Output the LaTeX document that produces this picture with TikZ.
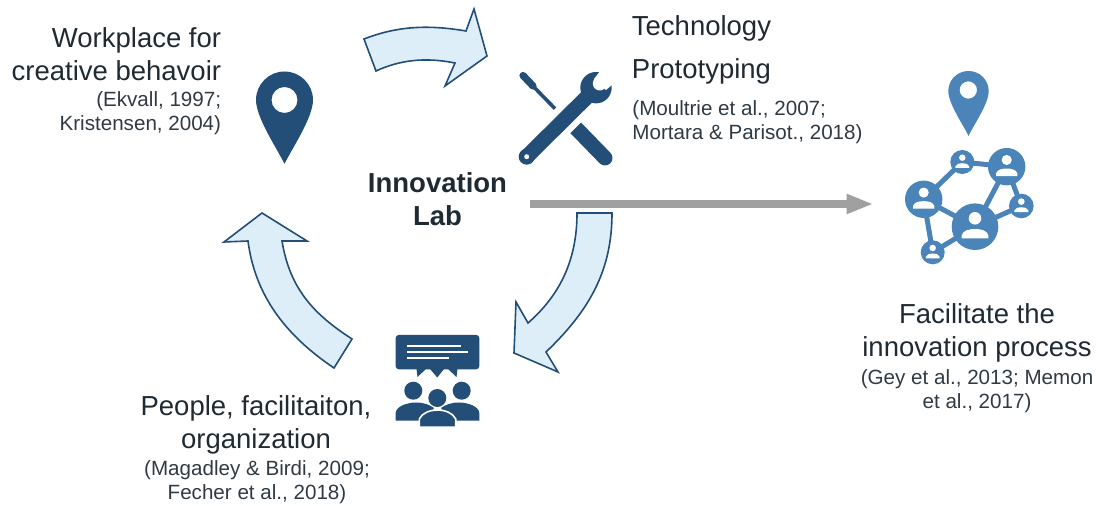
\documentclass[tikz,border=0pt]{standalone}
\usepackage{fontspec}
\setmainfont{Liberation Sans}
\usetikzlibrary{arrows.meta}
\definecolor{icondark}{HTML}{224E78}
\definecolor{iconblue}{HTML}{4A84B8}
\definecolor{cyclefill}{HTML}{DEEEF8}
\definecolor{textdark}{HTML}{1F2A33}
\definecolor{textref}{HTML}{2F3A43}
\definecolor{flowgray}{HTML}{A0A0A0}
\tikzset{
  titletext/.style={text=textdark, font=\fontsize{13.75}{16.5}\selectfont, align=#1, inner sep=0pt},
  reftext/.style={text=textref, font=\fontsize{10.3}{12}\selectfont, align=#1, inner sep=0pt},
  cyclearrow/.style={draw=icondark, fill=cyclefill, line width=0.8pt, line join=miter},
  netuser/.style={circle, fill=iconblue, inner sep=0pt, outer sep=0pt, minimum size=#1},
  netlink/.style={draw=iconblue, line width=2.5pt, shorten <=-1pt, shorten >=-1pt}
}
% white figure inside a network circle: centre, radius
\newcommand{\netperson}[3]{
  \fill[white] (#1,#2-0.36*#3) circle [radius=0.27*#3];
  \fill[white] (#1-0.57*#3,#2+0.5*#3) -- (#1-0.57*#3,#2+0.36*#3) .. controls (#1-0.5*#3,#2+0.15*#3) and (#1-0.25*#3,#2+0.1*#3) .. (#1,#2+0.1*#3) .. controls (#1+0.25*#3,#2+0.1*#3) and (#1+0.5*#3,#2+0.15*#3) .. (#1+0.57*#3,#2+0.36*#3) -- (#1+0.57*#3,#2+0.5*#3) -- cycle;
}
\begin{document}
\begin{tikzpicture}[x=0.5pt,y=-0.5pt]
  \useasboundingbox (0,0) rectangle (1102,506);

  % texts
  \node[titletext=right, anchor=east] (workplace) at (221.5,54) {Workplace for\\creative behavoir};
  \node[reftext=right, anchor=east] (workplaceref) at (221.5,113) {(Ekvall, 1997;\\Kristensen, 2004)};
  \node[titletext=left, anchor=west] (technology) at (631.5,28) {Technology};
  \node[titletext=left, anchor=west] (prototyping) at (631.5,71) {Prototyping};
  \node[reftext=left, anchor=west] (prototypingref) at (632,122) {(Moultrie et al., 2007;\\Mortara \& Parisot., 2018)};
  \node[titletext=center, font=\bfseries\fontsize{13.75}{16.5}\selectfont] (lab) at (437.5,199.5) {Innovation\\Lab};
  \node[titletext=center] (facilitate) at (977,333) {Facilitate the\\innovation process};
  \node[reftext=center] (facilitateref) at (977,391) {(Gey et al., 2013; Memon\\et al., 2017)};
  \node[titletext=center] (people) at (256,425) {People, facilitaiton,\\organization};
  \node[reftext=center] (peopleref) at (257,482) {(Magadley \& Birdi, 2009;\\Fecher et al., 2018)};

  % cycle arrows
  \draw[cyclearrow] (364,39) .. controls (395,27) and (425,24) .. (466,31) -- (474,9) -- (487,56) -- (445,86) -- (455,63) .. controls (425,57) and (400,60) .. (376,71) -- cycle;
  \draw[cyclearrow] (577,213) -- (612,213) .. controls (612,270) and (590,310) .. (546,352) -- (558,372) -- (514,353) -- (516,302) -- (528,323) .. controls (560,295) and (577,260) .. (577,213) -- cycle;
  \draw[cyclearrow] (352,339) .. controls (315,315) and (290,290) .. (282,241) -- (307,241) -- (262,213) -- (224,242) -- (248,241) .. controls (255,295) and (285,335) .. (334,368) -- cycle;

  % flow to the network
  \coordinate (flowstart) at (530,204);
  \coordinate (flowend) at (873.5,204);
  \draw[-{Triangle[length=13.5pt,width=9.2pt]}, flowgray, line width=3.8pt] (flowstart) -- (flowend);

  % pin
  \fill[icondark, even odd rule] (284.5,164) .. controls (278,150) and (256,118) .. (256,100) .. controls (256,84.3) and (268.8,71.5) .. (284.5,71.5) .. controls (300.2,71.5) and (313,84.3) .. (313,100) .. controls (313,118) and (291,150) .. (284.5,164) -- cycle (284.5,100) circle [radius=13];

  % tools
  \draw[icondark, line width=7.5pt, line cap=round] (605,158) -- (570,122);
  \draw[icondark, line width=1.8pt] (528,81) -- (570,124);
  \draw[icondark, line width=3.6pt, line cap=round] (523,75.5) -- (533,86);
  \draw[white, line width=14pt] (526.7,156.7) -- (596,87.7);
  \draw[icondark, line width=7.5pt] (526.7,156.7) -- (590,94);
  \fill[icondark] (526.7,156.7) circle [radius=8];
  \fill[white] (526.7,156.7) circle [radius=2.5];
  \fill[icondark] (596,87.7) circle [radius=15.7];
  \fill[white] (594,79) -- (604,66) -- (618,80) -- (606,90) -- cycle;
  \fill[white] (599.8,83.5) circle [radius=7];

  % people and speech bubble
  \fill[icondark, rounded corners=1.5pt] (395.7,335) rectangle (479.3,369.3);
  \fill[icondark] (416.5,369) -- (417.5,377) -- (426,369) -- cycle;
  \fill[icondark] (430,369) -- (437.3,377.5) -- (444,369) -- cycle;
  \fill[icondark] (448,369) -- (456.5,377) -- (457.5,369) -- cycle;
  \draw[white, line width=1pt] (407,346) -- (461,346);
  \draw[white, line width=1pt] (407,352.3) -- (468.3,352.3);
  \draw[white, line width=1pt] (407,358) -- (449.3,358);
  \fill[icondark] (413.3,390.7) circle [radius=9];
  \fill[icondark] (461.7,390.7) circle [radius=9];
  \fill[icondark] (437.3,398) circle [radius=9];
  \fill[icondark] (395.7,420.7) -- (395.7,413) .. controls (396,406) and (408,402.5) .. (416,402.5) .. controls (424,402.5) and (430,405) .. (434,408) -- (425,420.7) -- cycle;
  \fill[icondark] (479.3,420.7) -- (479.3,413) .. controls (479,406) and (467,402.5) .. (459,402.5) .. controls (451,402.5) and (445,405) .. (441,408) -- (450,420.7) -- cycle;
  \fill[icondark, draw=white, line width=0.8pt] (419.3,427.3) -- (419.3,419) .. controls (422,413) and (430,410) .. (437.5,410) .. controls (445,410) and (453,413) .. (455.7,419) -- (455.7,427.3) -- cycle;

  % network
  \fill[iconblue, even odd rule] (968.5,136) .. controls (964,126) and (948.3,104) .. (948.3,91) .. controls (948.3,80) and (957.3,71) .. (968.5,71) .. controls (979.7,71) and (988.7,80) .. (988.7,91) .. controls (988.7,104) and (973,126) .. (968.5,136) -- cycle (968.3,90) circle [radius=8.7];
  \node[netuser=18.7pt] (neta) at (923.7,199.3) {};
  \node[netuser=12pt] (netb) at (962.3,162) {};
  \node[netuser=18.7pt] (netc) at (1006.7,166.7) {};
  \node[netuser=12.3pt] (netd) at (1021.3,206) {};
  \node[netuser=23.3pt] (nete) at (975,226.7) {};
  \node[netuser=12pt] (netf) at (932.7,252.3) {};
  \draw[netlink] (neta) -- (netb);
  \draw[netlink] (netb) -- (netc);
  \draw[netlink] (netc) -- (nete);
  \draw[netlink] (netc) -- (netd);
  \draw[netlink] (netd) -- (nete);
  \draw[netlink] (neta) -- (nete);
  \draw[netlink] (neta) -- (netf);
  \draw[netlink] (netf) -- (nete);
  \netperson{923.7}{199.3}{18.7}
  \netperson{962.3}{162}{12}
  \netperson{1006.7}{166.7}{18.7}
  \netperson{1021.3}{206}{12.3}
  \netperson{975}{226.7}{23.3}
  \netperson{932.7}{252.3}{12}
\end{tikzpicture}
\end{document}
